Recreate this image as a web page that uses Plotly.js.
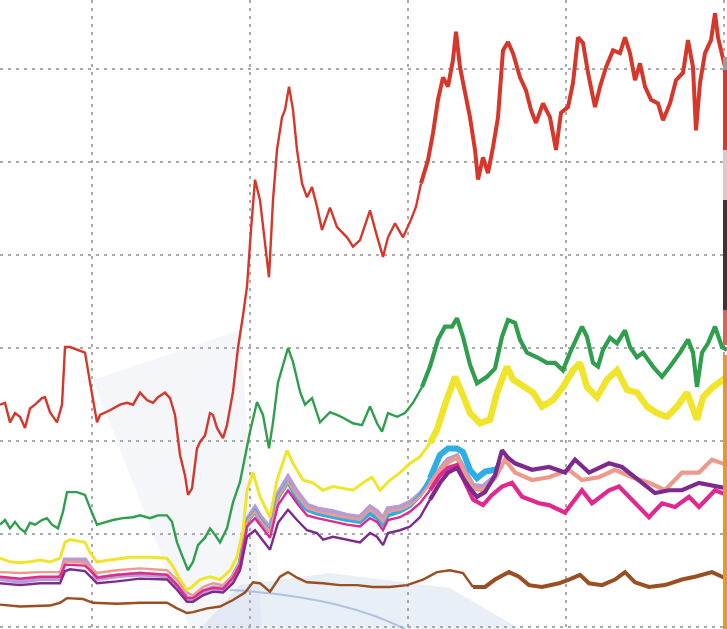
<!DOCTYPE html>
<html>
<head>
<meta charset="utf-8">
<script src="https://cdn.plot.ly/plotly-3.0.1.min.js"></script>
<style>
  html, body { margin: 0; padding: 0; background: #ffffff; }
  #chart { width: 727px; height: 629px; }
</style>
</head>
<body>
<div id="chart"></div>
<script>
// ---- data (x: day index, y: value) ----
const redX = [0,5,10,15,20,25,30,35,42,45,50,57,62,65,70,77,83,85,90,97,100,110,120,127,133,140,147,153,158,165,170,175,180,185,188,192,197,200,205,210,213,217,223,227,233,238,243,247,251,255,260,265,269,273,277,282,285,289,293,297,302,307,312,317,322,330,337,347,353,360,370,376,383,388,395,403,411,416,421,428,433,438,443,448,453,456,460,465,470,475,478,483,488,493,498,503,508,513,520,526,531,536,543,550,556,561,568,573,578,583,588,595,600,606,613,620,625,630,635,640,645,651,658,663,670,676,683,688,693,696,700,705,711,715,718,725];
const redY = [23.9,24.1,22.0,23.0,22.6,21.4,23.5,23.9,24.6,24.7,23.1,22.0,23.9,30.1,30.1,29.8,29.6,29.5,26.3,22.0,22.8,23.3,23.9,24.1,23.9,25.2,24.4,24.1,24.7,25.2,24.6,22.8,18.5,16.3,14.2,14.9,19.2,19.9,20.6,23.0,22.8,21.4,20.3,21.7,25.3,30.0,33.5,36.6,42.7,48.1,45.9,41.6,37.6,45.9,51.3,54.8,55.6,58.1,55.6,51.3,47.7,46.2,47.3,45.2,42.7,45.1,43.0,41.9,40.9,41.6,44.8,42.4,39.8,41.9,43.4,41.9,43.8,45.2,47.7,50.2,53.1,56.7,59.1,58.1,61.0,64.0,60.2,57.7,54.8,51.3,48.1,50.5,48.8,51.6,54.8,62.0,62.9,61.7,59.1,57.7,55.6,54.2,56.3,54.8,51.3,55.3,55.9,58.5,63.4,62.8,59.6,55.9,58.1,60.2,62.0,61.7,63.4,61.7,58.8,60.6,58.1,56.7,56.3,54.5,56.3,58.8,59.6,63.1,60.2,53.4,58.5,61.7,63.1,66.0,63.4,60.2];

const greenX = [0,5,10,15,20,25,30,35,42,47,52,58,63,67,77,85,90,97,103,113,123,133,140,150,158,167,172,177,182,188,193,198,205,210,215,220,227,233,240,245,250,257,263,269,273,278,283,288,293,300,305,312,320,330,337,343,353,362,370,377,382,388,397,405,413,422,430,438,445,452,457,463,470,477,487,495,502,508,515,520,527,537,547,555,563,570,577,582,587,593,598,603,610,617,625,630,637,643,653,662,670,680,688,693,697,702,708,715,722,727];
const greenY = [11.0,11.5,10.6,11.3,10.6,10.2,11.2,11.0,11.5,11.7,11.0,10.6,12.4,14.5,14.5,14.2,12.8,11.0,11.2,11.5,11.7,11.8,12.0,11.7,12.0,12.0,11.3,9.1,7.7,6.1,7.0,8.8,9.6,10.6,9.9,9.1,10.6,13.4,15.6,18.2,21.0,24.2,22.8,19.2,22.0,26.3,28.2,30.0,28.5,25.3,23.9,24.6,22.0,23.1,22.8,22.5,21.9,21.7,23.7,21.9,21.0,23.0,22.6,23.0,24.1,25.8,28.0,30.9,32.3,32.3,33.2,31.2,28.2,26.2,26.9,27.8,31.2,33.0,32.7,30.9,29.5,29.0,28.4,28.4,27.6,29.5,31.2,32.3,31.2,28.4,28.0,29.8,31.1,30.5,31.9,30.1,29.0,29.5,28.0,26.9,28.0,29.5,30.9,29.5,25.8,29.5,30.5,32.3,30.1,29.8];

const yellowX = [0,10,20,30,40,50,60,65,70,85,90,97,110,130,150,167,173,180,187,192,200,210,220,230,237,243,247,253,260,270,277,287,293,303,313,323,333,343,353,363,372,380,390,400,410,420,430,437,445,455,463,470,480,490,497,507,513,523,533,542,553,563,573,580,587,597,607,617,627,637,647,657,667,677,687,697,703,713,723,727];
const yellowY = [7.4,7.0,6.9,7.0,7.2,7.0,7.4,9.1,9.4,9.1,8.0,7.0,7.2,7.5,7.5,7.4,6.5,5.1,4.0,4.3,5.1,5.4,5.1,6.1,7.5,10.4,14.7,16.6,14.0,11.8,15.8,19.0,17.6,15.8,15.5,14.7,15.1,14.9,14.7,15.5,16.1,14.7,15.8,16.6,17.6,18.3,19.8,21.2,23.9,26.9,24.9,23.0,21.9,22.3,25.2,28.0,26.6,25.8,25.2,23.7,24.4,25.8,27.6,28.4,25.8,24.7,26.6,27.6,25.5,25.2,23.7,23.0,22.6,23.7,25.2,22.3,24.7,25.8,26.6,26.0];

const lavenderX = [0,20,40,60,65,85,92,97,117,140,167,177,187,193,203,213,223,233,240,247,255,260,270,278,288,297,307,317,333,347,360,370,377,383,388,400,410,420,430,440,448,457,463,473,483,495];
const lavenderY = [5.2,4.9,5.2,5.2,7.2,7.2,6.1,5.2,5.5,5.7,5.5,4.4,3.1,3.0,3.8,4.2,4.1,5.2,6.7,11.5,12.8,11.9,10.6,14.3,16.1,14.5,13.1,12.7,12.4,12.0,11.8,12.9,12.4,11.6,12.7,12.9,13.4,14.3,15.6,17.1,18.0,18.4,17.1,15.2,15.1,16.2];

const cyanX = [233,240,247,255,260,270,278,288,297,307,317,333,347,360,370,377,383,388,400,410,420,430,440,448,457,463,470,477,485,495,502];
const cyanY = [5.5,6.9,11.3,12.4,11.5,10.2,13.9,15.6,13.7,12.6,12.2,11.8,11.5,11.3,12.2,11.7,11.0,12.0,12.4,13.0,14.1,16.0,18.5,19.2,19.2,18.8,16.9,16.0,16.7,16.9,17.4];

const salmonX = [0,20,40,60,65,85,92,97,117,140,167,177,187,193,203,213,223,233,240,247,255,260,270,278,288,297,307,317,333,347,360,370,377,383,388,400,410,420,430,440,448,457,463,473,483,495,505,515,532,549,569,582,599,615,632,649,665,682,699,712,727];
const salmonY = [5.9,5.8,5.9,5.9,7.0,6.9,6.3,5.8,6.1,6.3,6.1,5.1,3.7,3.4,4.3,4.7,4.5,5.6,7.0,11.3,12.4,11.5,10.2,13.9,15.6,14.1,12.8,12.4,12.0,11.7,11.5,12.6,12.0,11.3,12.4,12.6,13.1,14.0,15.4,16.9,17.7,18.2,16.9,14.9,14.7,16.0,18.0,16.6,15.8,16.1,16.9,15.8,16.1,16.9,16.1,15.5,14.7,16.6,16.6,18.0,17.4];

const magentaX = [0,20,40,60,65,85,92,97,117,140,167,177,187,193,203,213,223,233,240,247,255,260,270,278,288,297,307,317,333,347,360,370,377,383,388,400,410,420,430,440,448,457,463,473,483,492,502,512,522,539,549,565,582,592,609,619,629,639,649,662,675,689,699,715,727];
const magentaY = [5.4,5.2,5.4,5.4,6.7,6.6,5.9,5.3,5.6,5.8,5.6,4.5,3.1,3.1,3.9,4.2,4.1,5.3,6.7,10.8,11.7,11.0,9.6,13.1,14.7,13.3,12.0,11.7,11.3,11.0,10.8,11.7,11.3,10.4,11.5,11.8,12.4,13.3,14.7,16.3,17.1,17.4,16.0,13.7,13.1,14.2,15.1,15.5,14.0,13.3,13.1,12.3,14.7,13.3,14.7,15.1,14.0,12.9,11.8,13.3,12.9,14.0,12.9,14.7,14.2];

const purpleX = [0,20,40,60,65,70,85,92,97,117,140,167,177,187,193,203,213,223,233,240,247,255,260,270,278,288,297,307,317,323,333,347,360,370,377,383,388,400,410,420,430,440,448,457,463,470,477,485,495,502,508,515,532,549,565,575,589,609,622,639,655,669,682,699,715,727];
const purpleY = [4.7,4.5,4.7,4.7,6.0,6.2,6.0,5.3,4.7,4.9,5.2,5.1,4.0,2.7,2.7,3.4,3.8,3.7,4.7,6.1,9.7,10.4,9.7,8.3,11.2,12.6,11.5,10.4,10.1,9.4,9.7,9.4,9.1,10.1,9.7,8.8,10.1,10.4,10.8,11.8,13.7,15.5,16.6,17.1,16.0,14.9,14.0,14.5,16.3,19.0,18.2,17.6,16.9,17.2,16.6,18.0,16.6,17.6,17.2,15.8,14.4,14.7,14.7,15.5,15.1,14.9];

const brownX = [0,20,50,60,67,83,93,117,140,167,177,187,193,207,220,233,245,253,260,270,280,288,297,307,323,340,357,373,390,407,423,437,450,463,473,485,495,509,519,529,542,559,569,580,589,602,615,625,635,649,665,682,695,712,722,727];
const brownY = [2.4,2.2,2.3,2.6,3.1,3.0,2.6,2.5,2.6,2.6,2.0,1.5,1.6,2.0,2.2,2.9,3.7,4.8,4.7,3.8,5.4,5.9,5.3,4.8,4.7,4.5,4.5,4.3,4.3,4.5,5.1,5.9,6.1,5.8,4.3,4.3,5.1,5.9,5.4,4.5,4.3,4.7,5.1,5.6,4.7,4.5,5.1,5.9,4.8,4.3,4.5,5.1,5.4,5.9,5.4,5.2];

// ---- traces: each series drawn as a calm segment and a noisier (thicker) segment ----
function series(xs, ys, color, w1, w2, splitAt) {
  let k = xs.findIndex(v => v >= splitAt);
  if (k < 0) k = xs.length - 1;
  const a = {x: xs.slice(0, k + 1), y: ys.slice(0, k + 1), mode: 'lines', hoverinfo: 'skip',
             line: {color: color, width: w1, shape: 'linear'}, showlegend: false, type: 'scatter'};
  const b = {x: xs.slice(k), y: ys.slice(k), mode: 'lines', hoverinfo: 'skip',
             line: {color: color, width: w2, shape: 'linear'}, showlegend: false, type: 'scatter'};
  return [a, b];
}

const data = [].concat(
  series(brownX, brownY, '#9a4f22', 2.4, 4.0, 470),
  series(lavenderX, lavenderY, '#b89bd2', 5, 5, 420),
  series(cyanX, cyanY, '#2eaee6', 4, 6, 430),
  series(salmonX, salmonY, '#ec9a8c', 2.4, 4.2, 430),
  series(magentaX, magentaY, '#e0288e', 2.4, 4.2, 430),
  series(purpleX, purpleY, '#7c2a8e', 2.4, 4.2, 430),
  series(yellowX, yellowY, '#f1e52c', 3, 6.5, 430),
  series(greenX, greenY, '#2f9f4e', 2.4, 4.2, 420),
  series(redX, redY, '#d8362a', 2.4, 4.0, 420)
);

// paper-coordinate decoration helpers (background haze and right-hand colour strip)
const W = 727, H = 629;
const px = v => v / W, py = v => 1 - v / H;
const strip = [
  [57, 70, '#9b9b9b'], [70, 150, '#e0362a'], [150, 200, '#dccaca'],
  [200, 310, '#3b3636'], [310, 345, '#df6252'], [355, 629, '#e59a26']
];
const shapes = [
  {type: 'path', xref: 'paper', yref: 'paper', layer: 'below', line: {width: 0},
   fillcolor: 'rgba(214,224,238,0.28)',
   path: `M${px(93)},${py(380)} L${px(240)},${py(330)} L${px(262)},${py(629)} L${px(190)},${py(629)} Z`},
  {type: 'path', xref: 'paper', yref: 'paper', layer: 'below', line: {width: 0},
   fillcolor: 'rgba(200,214,236,0.4)',
   path: `M${px(200)},${py(629)} L${px(240)},${py(585)} L${px(330)},${py(573)} L${px(450)},${py(588)} L${px(520)},${py(629)} Z`},
  {type: 'path', xref: 'paper', yref: 'paper', layer: 'below',
   line: {color: 'rgba(120,150,200,0.5)', width: 2},
   path: `M${px(230)},${py(590)} Q${px(340)},${py(596)} ${px(405)},${py(629)}`}
];
strip.forEach(s => shapes.push({
  type: 'rect', xref: 'paper', yref: 'paper', layer: 'above', line: {width: 0},
  x0: px(723), x1: 1, y0: py(s[1]), y1: py(s[0]), fillcolor: s[2]
}));

const layout = {
  width: 727, height: 629,
  margin: {l: 0, r: 0, t: 0, b: 0, pad: 0},
  paper_bgcolor: '#ffffff', plot_bgcolor: '#ffffff',
  showlegend: false,
  xaxis: {range: [0, 727], tick0: 92, dtick: 158, showgrid: true, gridcolor: '#ababab',
          gridwidth: 1.5, griddash: '3px,5px', zeroline: false, showline: false,
          showticklabels: false, ticks: '', fixedrange: true},
  yaxis: {range: [-0.22, 67.42], tick0: 0, dtick: 10, showgrid: true, gridcolor: '#ababab',
          gridwidth: 1.5, griddash: '3px,5px', zeroline: false, showline: false,
          showticklabels: false, ticks: '', fixedrange: true},
  shapes: shapes
};

Plotly.newPlot('chart', data, layout, {staticPlot: true, displayModeBar: false});
</script>
</body>
</html>
